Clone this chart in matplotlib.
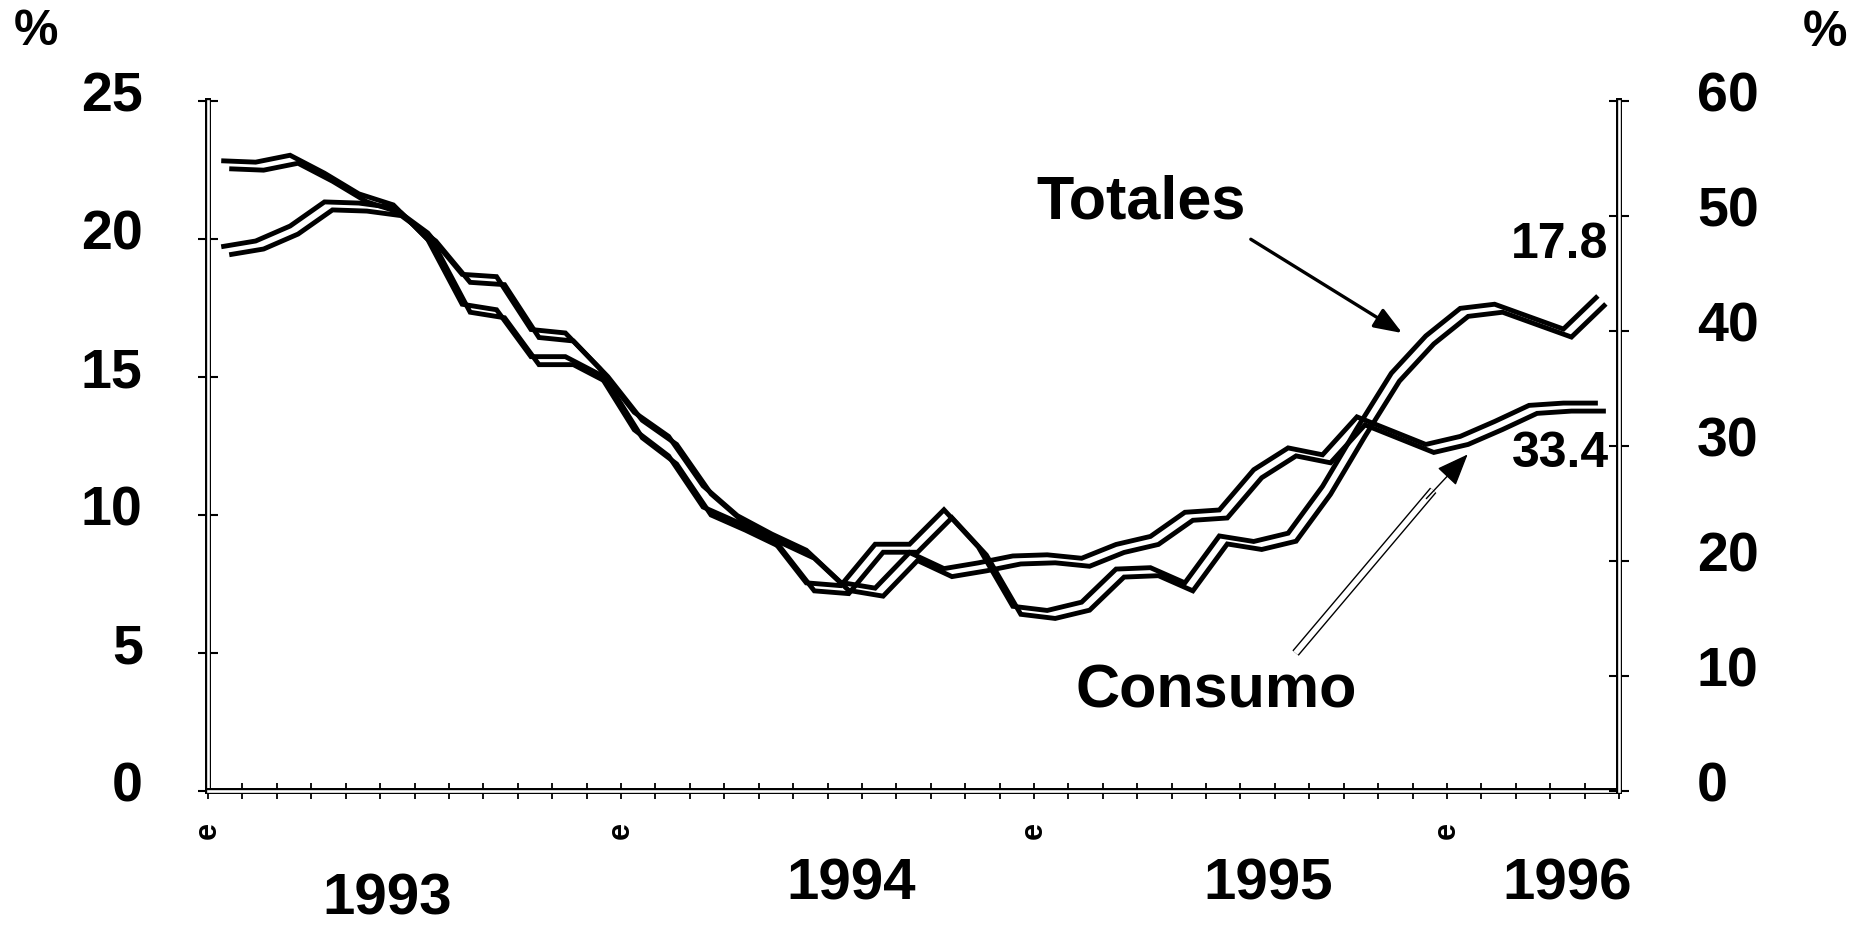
import numpy as np
import matplotlib
matplotlib.use("Agg")
import matplotlib.pyplot as plt
import matplotlib.patheffects as pe
from matplotlib.transforms import offset_copy, ScaledTranslation

# ---- data (monthly, Jan 1993 - May 1996) ----
totales = [22.7, 22.65, 22.9, 22.25, 21.5, 21.1, 19.85, 17.5, 17.3, 15.6,
           15.6, 14.95, 12.95, 12.0, 10.15, 9.6, 9.0, 7.4, 7.3, 8.8,
           8.8, 10.05, 8.7, 6.55, 6.4, 6.7, 7.9, 7.95, 7.4, 9.1,
           8.9, 9.2, 10.9, 13.0, 15.0, 16.35, 17.35, 17.5, 17.05, 16.6,
           17.8]                                   # left axis, %
consumo = [47.0, 47.5, 48.8, 50.9, 50.8, 50.4, 48.2, 44.6, 44.4, 39.8,
           39.5, 36.4, 32.6, 30.5, 26.2, 23.6, 22.0, 20.6, 17.8, 17.3,
           20.4, 19.0, 19.5, 20.1, 20.2, 19.9, 21.1, 21.8, 23.9, 24.1,
           27.6, 29.5, 28.9, 32.2, 31.0, 29.8, 30.5, 31.8, 33.2, 33.4,
           33.4]                                   # right axis, %
left_ticks = [0, 5, 10, 15, 20, 25]
right_ticks = [0, 10, 20, 30, 40, 50, 60]
year_labels = ["1993", "1994", "1995", "1996"]
year_pos = [4.7, 18.2, 30.3, 39.0]
jan_bounds = [-0.5, 11.5, 23.5, 35.5]

NARROW = ["Liberation Sans Narrow", "Liberation Sans", "DejaVu Sans"]
WIDE = ["Liberation Sans", "DejaVu Sans"]

fig = plt.figure(figsize=(18.64, 9.27), dpi=100)
ax = fig.add_axes([0.1116, 0.1467, 0.757, 0.744])
ax2 = ax.twinx()

n = len(totales)
x = np.arange(n)
ax.set_xlim(-0.5, n - 0.5)
ax.set_ylim(0, 25)
ax2.set_ylim(0, 60)

# double (offset) lines
def dbl(axis, xs, ys):
    for dx, dy in [(-4.0, 4.0), (4.0, -4.0)]:
        tr = offset_copy(axis.transData, fig=fig, x=dx, y=dy, units='dots')
        axis.plot(xs, ys, color='black', lw=3.5, transform=tr,
                  solid_joinstyle='miter', solid_capstyle='butt', clip_on=False)

dbl(ax, x, totales)
dbl(ax2, x, consumo)

# spines as double lines
spine_pe = [pe.Stroke(linewidth=4.3, foreground='black'),
            pe.Stroke(linewidth=1.9, foreground='white')]
for s in ['top', 'right']:
    ax.spines[s].set_visible(False)
for s in ['top', 'left', 'bottom']:
    ax2.spines[s].set_visible(False)
for sp in [ax.spines['left'], ax.spines['bottom'], ax2.spines['right']]:
    sp.set_linewidth(1.0)
    sp.set_path_effects(spine_pe)

# ticks
ax.set_yticks(left_ticks)
ax.set_yticklabels([str(t) for t in left_ticks], fontsize=40, fontweight='bold', family=NARROW)
ax.tick_params(axis='y', direction='inout', length=14, width=1.5, pad=40)
ax2.set_yticks(right_ticks)
ax2.set_yticklabels([str(t) for t in right_ticks], fontsize=40, fontweight='bold', family=NARROW)
ax2.tick_params(axis='y', direction='inout', length=14, width=1.5, pad=49)
off = ScaledTranslation(0, 10 / 100, fig.dpi_scale_trans)
for lab in ax.get_yticklabels() + ax2.get_yticklabels():
    lab.set_transform(lab.get_transform() + off)

ax.set_xticks(np.arange(-0.5, n, 1.0))
ax.set_xticklabels([])
ax.tick_params(axis='x', direction='inout', length=12, width=1.3)

xt = ax.get_xaxis_transform()
for b in jan_bounds:
    ax.text(b, -0.057, "e", rotation=90, ha='center', va='center', transform=xt,
            fontsize=22, fontweight='bold', family=WIDE)
for lab, p in zip(year_labels, year_pos):
    yy = -0.158 if lab == "1993" else -0.136
    ax.text(p, yy, lab, ha='center', va='center', transform=xt,
            fontsize=42, fontweight='bold', family=NARROW)

# annotations
ax.text(26.6, 21.3, "Totales", ha='center', va='center', fontsize=44,
        fontweight='bold', family=WIDE)
ax.text(28.8, 3.6, "Consumo", ha='center', va='center', fontsize=44,
        fontweight='bold', family=WIDE)
ax.text(40.2, 19.8, "17.8", ha='right', va='center', fontsize=36,
        fontweight='bold', family=NARROW)
ax.text(40.2, 12.2, "33.4", ha='right', va='center', fontsize=36,
        fontweight='bold', family=NARROW)

ax.annotate("", xy=(34.2, 16.6), xytext=(29.8, 20.0),
            arrowprops=dict(arrowstyle='-|>,head_length=1.7,head_width=0.65',
                            color='black', lw=2.4, shrinkA=0, shrinkB=0))
# Consumo arrow: hollow double shaft + solid head
ax.plot([31.1, 35.1], [5.0, 10.9], color='black', lw=6.0, solid_capstyle='butt',
        path_effects=[pe.Stroke(linewidth=6.0, foreground='black'),
                      pe.Stroke(linewidth=4.0, foreground='white')])
ax.annotate("", xy=(36.1, 12.2), xytext=(34.9, 10.6),
            arrowprops=dict(arrowstyle='-|>,head_length=2.0,head_width=0.8',
                            color='black', lw=1.0, shrinkA=0, shrinkB=0))

fig.text(0.0193, 0.9655, "%", ha='center', va='center', fontsize=36,
         fontweight='bold', family=NARROW)
fig.text(0.979, 0.964, "%", ha='center', va='center', fontsize=36,
         fontweight='bold', family=NARROW)

fig.savefig("out.png", dpi=100, facecolor='white')
